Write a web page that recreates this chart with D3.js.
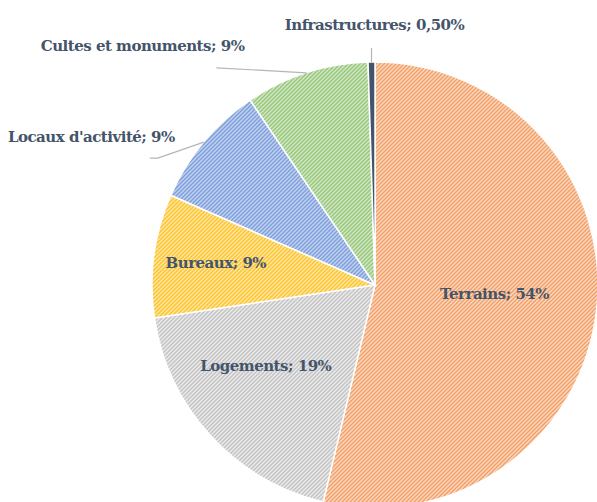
<!DOCTYPE html>
<html>
<head>
<meta charset="utf-8">
<script src="https://cdn.jsdelivr.net/npm/d3@7"></script>
<style>
  html, body { margin: 0; padding: 0; background: #fff; }
  svg { display: block; }
</style>
</head>
<body>
<div id="chart"></div>
<script>
// --------------------------------------
//  Data
// --------------------------------------

const categories = ["Terrains", "Logements", "Bureaux", "Locaux d'activité", "Cultes et monuments", "Infrastructures"];
const values = [54, 19, 9, 9, 9, 0.5];
const valueLabels = ["54%", "19%", "9%", "9%", "9%", "0,50%"];

// stripe colour / light background colour per slice
const stripeColors = ["#f2a06a", "#c4c4c4", "#fcc52e", "#7d9fdb", "#98c77c", "#44546a"];
const backColors = ["#fcd9c0", "#ececec", "#fee7a8", "#c3d3f0", "#d3e8c6", "#44546a"];

// --------------------------------------
//  Canvas
// --------------------------------------

const width = 597;
const height = 502;
const cx = 375;
const cy = 285;
const radius = 223;

const svg = d3.select("#chart")
  .append("svg")
    .attr("width", width)
    .attr("height", height);

const defs = svg.append("defs");

categories.forEach((c, i) => {
  const p = defs.append("pattern")
    .attr("id", "hatch" + i)
    .attr("patternUnits", "userSpaceOnUse")
    .attr("width", 4)
    .attr("height", 4);
  p.append("rect")
    .attr("width", 4)
    .attr("height", 4)
    .attr("fill", backColors[i]);
  p.append("path")
    .attr("d", "M-1,1 l2,-2 M0,4 l4,-4 M3,5 l2,-2")
    .attr("stroke", stripeColors[i])
    .attr("stroke-width", 1.5);
});

const g = svg.append("g")
  .attr("transform", `translate(${cx}, ${cy})`);

// --------------------------------------
//  Pie
// --------------------------------------

const pie = d3.pie()
  .sort(null)
  .value(d => d.value);

const data = categories.map((c, i) => ({name: c, value: values[i], label: valueLabels[i], i: i}));
const arcs = pie(data);

const arc = d3.arc()
  .innerRadius(0)
  .outerRadius(radius);

g.selectAll("path.slice")
  .data(arcs)
  .join("path")
    .attr("class", "slice")
    .attr("d", arc)
    .attr("fill", d => `url(#hatch${d.data.i})`)
    .attr("stroke", "#fff")
    .attr("stroke-width", 1.5);

// --------------------------------------
//  Labels
// --------------------------------------

const textColor = "#44546a";
const font = "'DejaVu Serif', serif";
const fontSize = 15;

// inside labels: radius factor along the mid angle + small nudge
const inside = {
  0: {r: 0.54, dx: 0, dy: -5},
  1: {r: 0.61, dx: -9, dy: -11},
  2: {r: 0.72, dx: 0, dy: -1}
};
// outside labels: leader line offsets from arc point and text anchor
const outside = {
  3: {line: [[-46, 16], [-54, 16]], text: [-29, -5], anchor: "end"},
  4: {line: [[-90, -5]], text: [-62, -27], anchor: "end"},
  5: {line: [[0, -14]], text: [3, -37], anchor: "middle"}
};

const midPoint = (d, r) => {
  const a = (d.startAngle + d.endAngle) / 2;
  return [r * Math.sin(a), -r * Math.cos(a)];
};

const labelText = d => `${d.data.name}; ${d.data.label}`;

function addText(x, y, anchor, d) {
  g.append("text")
    .attr("x", x)
    .attr("y", y)
    .attr("text-anchor", anchor)
    .attr("dominant-baseline", "central")
    .attr("font-family", font)
    .attr("font-weight", "bold")
    .attr("font-size", fontSize)
    .attr("letter-spacing", -0.5)
    .attr("fill", textColor)
    .text(labelText(d));
}

arcs.forEach(d => {
  const i = d.data.i;
  if (inside[i] !== undefined) {
    const o = inside[i];
    const [x, y] = midPoint(d, radius * o.r);
    addText(x + o.dx, y + o.dy, "middle", d);
  } else {
    const o = outside[i];
    const [x0, y0] = midPoint(d, radius);
    const pts = [[x0, y0]].concat(o.line.map(p => [x0 + p[0], y0 + p[1]]));
    g.append("path")
      .attr("d", d3.line()(pts))
      .attr("fill", "none")
      .attr("stroke", "#b5b5b5")
      .attr("stroke-width", 1.2);
    addText(x0 + o.text[0], y0 + o.text[1], o.anchor, d);
  }
});
</script>
</body>
</html>
